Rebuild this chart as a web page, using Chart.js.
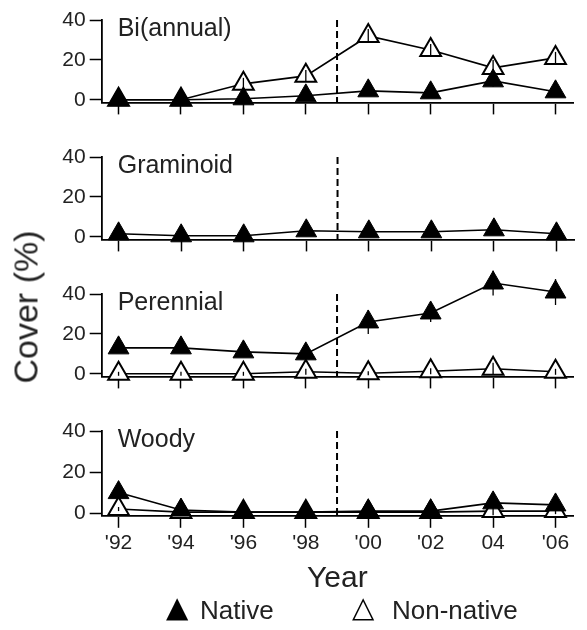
<!DOCTYPE html>
<html lang="en">
<head>
<meta charset="UTF-8">
<title>Cover by functional group</title>
<style>
  html, body { margin: 0; padding: 0; background: #fff; overflow: hidden; }
  #wrap { position: relative; width: 587px; height: 630px; font-family: Arial, "Liberation Sans", sans-serif; color: #222; }
  #wrap canvas { position: absolute; left: 0; }
  #ytitle { position: absolute; left: 26px; top: 307px; transform: translate(-50%, -50%) rotate(-90deg); font-size: 34px; white-space: nowrap; }
  .key { position: absolute; top: 610px; transform: translateY(-50%); font-size: 26px; white-space: nowrap; line-height: 1; }
  .sym { font-family: "DejaVu Sans", sans-serif; font-size: 29px; color: #000; top: 607px; }
</style>
</head>
<body>
<div id="wrap">
  <canvas id="c0"></canvas>
  <canvas id="c1"></canvas>
  <canvas id="c2"></canvas>
  <canvas id="c3"></canvas>
  <div id="ytitle">Cover (%)</div>
  <div class="key sym" style="left:166px">▲</div>
  <div class="key" style="left:200px">Native</div>
  <div class="key sym" style="left:352px">△</div>
  <div class="key" style="left:392px">Non-native</div>
</div>
<script src="https://cdn.jsdelivr.net/npm/chart.js@4.4.0/dist/chart.umd.min.js"></script>
<script>
// sampling years and their axis labels
var years = [1992, 1994, 1996, 1998, 2000, 2002, 2004, 2006];
var yearLabels = ["'92", "'94", "'96", "'98", "'00", "'02", "04", "'06"];
var yTicks = [0, 20, 40];
var treatmentYear = 1999;
var groups = ['Bi(annual)', 'Graminoid', 'Perennial', 'Woody'];

// mean cover (%) and standard errors
var biannualNative      = [0, 0, 0.5, 2, 4.5, 3.5, 9.5, 4];
var biannualNativeSE    = [0.5, 0.5, 0.5, 1, 1.5, 1.5, 3, 1.5];
var biannualNonNative   = [0, 0, 8, 12, 32, 25, 16, 21];
var biannualNonNativeSE = [0.5, 0.5, 3, 3, 3.5, 3, 4, 3];

var graminoidNative     = [1.5, 0.5, 0.5, 3, 2.5, 2.5, 3.5, 1.5];
var graminoidNativeSE   = [1, 1, 1, 1, 1, 1, 1.5, 1];

var perennialNative      = [13, 13, 11, 10, 26, 30.5, 45.5, 41];
var perennialNativeSE    = [1.5, 1.5, 1.5, 1.5, 6, 4.5, 6.3, 6.5];
var perennialNonNative   = [0, 0, 0, 1, 0.3, 1.3, 2.5, 1];
var perennialNonNativeSE = [1, 1, 1, 1.5, 1, 1.5, 3, 1.5];

var woodyNative      = [10, 1.5, 0.5, 0.5, 1, 1, 5, 4];
var woodyNativeSE    = [2, 1, 0.5, 0.5, 1, 1, 2, 2];
var woodyNonNative   = [2, 0.5, 0.5, 0.5, 0.5, 0.5, 1, 1];
var woodyNonNativeSE = [1, 0.5, 0.5, 0.5, 0.5, 0.5, 2, 1.5];

var series = [
  [biannualNative, biannualNativeSE, biannualNonNative, biannualNonNativeSE],
  [graminoidNative, graminoidNativeSE, null, null],
  [perennialNative, perennialNativeSE, perennialNonNative, perennialNonNativeSE],
  [woodyNative, woodyNativeSE, woodyNonNative, woodyNonNativeSE]
];

// page layout of the four stacked panels
var panelTops = [20, 157, 294, 431];
var padTop = 40;
var plotH = 87;

Chart.defaults.font.family = 'Arial, "Liberation Sans", sans-serif';
Chart.defaults.color = '#222';

// vertical error bars, drawn over the markers
var errorBars = {
  id: 'errorBars',
  afterDatasetsDraw: function(chart) {
    var ctx = chart.ctx, y = chart.scales.y;
    ctx.save();
    ctx.strokeStyle = '#000';
    ctx.lineWidth = 1.3;
    chart.data.datasets.forEach(function(ds, d) {
      var meta = chart.getDatasetMeta(d);
      meta.data.forEach(function(pt, k) {
        var v = ds.data[k].y, e = ds.errors[k];
        ctx.beginPath();
        ctx.moveTo(pt.x, y.getPixelForValue(v - e));
        ctx.lineTo(pt.x, y.getPixelForValue(v + e));
        ctx.stroke();
      });
    });
    ctx.restore();
  }
};

// dashed treatment line and the group name in the corner
var panelDecor = {
  id: 'panelDecor',
  beforeDatasetsDraw: function(chart, args, opts) {
    var ctx = chart.ctx, area = chart.chartArea;
    var px = chart.scales.x.getPixelForValue(treatmentYear);
    ctx.save();
    ctx.strokeStyle = '#000';
    ctx.lineWidth = 2;
    ctx.setLineDash([7, 4]);
    ctx.beginPath();
    ctx.moveTo(px, area.top);
    ctx.lineTo(px, area.bottom);
    ctx.stroke();
    ctx.setLineDash([]);
    ctx.font = '25px Arial, "Liberation Sans", sans-serif';
    ctx.fillStyle = '#222';
    ctx.textBaseline = 'middle';
    ctx.fillText(opts.name, area.left + 16, area.top + 9);
    ctx.restore();
  }
};

function points(vals) {
  return years.map(function(x, k) { return {x: x, y: vals[k]}; });
}

function makePanel(i) {
  var last = i === 3;
  var s = series[i];
  var canvas = document.getElementById('c' + i);
  canvas.width = 587;
  canvas.height = last ? 630 - (panelTops[i] - padTop) : padTop + plotH + 12;
  canvas.style.top = (panelTops[i] - padTop) + 'px';

  var datasets = [{
    label: 'Native',
    data: points(s[0]),
    errors: s[1],
    borderColor: '#000',
    borderWidth: 1.6,
    pointStyle: 'triangle',
    pointRadius: 12,
    pointBackgroundColor: '#000',
    pointBorderColor: '#000',
    pointBorderWidth: 1,
    clip: false
  }];
  if (s[2]) {
    datasets.push({
      label: 'Non-native',
      data: points(s[2]),
      errors: s[3],
      borderColor: '#000',
      borderWidth: 1.6,
      pointStyle: 'triangle',
      pointRadius: 12,
      pointBackgroundColor: '#fff',
      pointBorderColor: '#000',
      pointBorderWidth: 2,
      clip: false
    });
  }

  new Chart(canvas, {
    type: 'line',
    data: { datasets: datasets },
    plugins: [panelDecor, errorBars],
    options: {
      responsive: false,
      animation: false,
      devicePixelRatio: 1,
      layout: { padding: { top: padTop, left: 0, right: 0, bottom: last ? 33 : 0 } },
      plugins: {
        legend: { display: false },
        tooltip: { enabled: false },
        panelDecor: { name: groups[i] }
      },
      scales: {
        x: {
          type: 'linear',
          min: 1991.46,
          max: 2006.56,
          afterBuildTicks: function(axis) {
            axis.ticks = years.map(function(v) { return {value: v}; });
          },
          ticks: {
            display: last,
            padding: 3,
            font: { size: 21 },
            color: '#222',
            callback: function(v) { return yearLabels[years.indexOf(v)]; }
          },
          grid: { drawOnChartArea: false, drawTicks: true, tickLength: 12, tickColor: '#000', tickWidth: 1.5 },
          border: { display: true, color: '#000', width: 1.8 },
          title: {
            display: last,
            text: 'Year',
            font: { size: 30 },
            color: '#222',
            padding: { top: 2, bottom: 0 }
          }
        },
        y: {
          min: -1.3,
          max: 40,
          afterBuildTicks: function(axis) {
            axis.ticks = yTicks.map(function(v) { return {value: v}; });
          },
          afterFit: function(axis) { axis.width = 101.7; },
          ticks: { padding: 4, font: { size: 21 }, color: '#222' },
          grid: { drawOnChartArea: false, drawTicks: true, tickLength: 12, tickColor: '#000', tickWidth: 1.5 },
          border: { display: true, color: '#000', width: 1.8 }
        }
      }
    }
  });
}

for (var i = 0; i < 4; i++) makePanel(i);
</script>
</body>
</html>
